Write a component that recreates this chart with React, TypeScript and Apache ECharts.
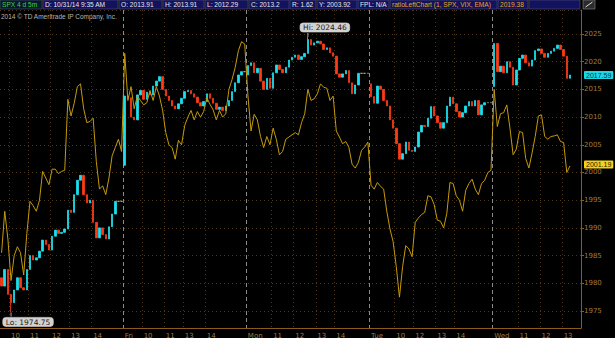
import React, { useEffect, useRef } from 'react';
import * as echarts from 'echarts';

// ---- axis / layout data ----
const dayNames = ['Thu', 'Fri', 'Mon', 'Tue', 'Wed'];
const DAY_SLOTS = 39; // 10-minute slots 9:30..15:50
const TOTAL_SLOTS = 184;
const Y_MIN = 1971.93;
const Y_MAX = 2029.33;

const hourTicks: [number, string][] = [
  [3, '10'], [9, '11'], [16, '12'], [22, '13'], [29, '14'],
  [45, '10'], [52, '11'], [58, '13'], [65, '14'],
  [86, '11'], [93, '12'], [100, '13'], [106, '14'],
  [125, '10'], [131, '12'], [138, '13'], [144, '14'],
  [164, '11'], [171, '12'], [178, '13'],
];
const dayTicks: [number, string][] = [[39, 'Fri'], [78, 'Mon'], [117, 'Tue'], [156, 'Wed']];

// ---- SPX closes (per 10-min slot) ----
const thuCloses = [1979.5, 1982.5, 1978.0, 1976.5, 1978.8, 1981.0, 1979.2, 1978.8, 1982.5, 1985.0, 1984.2, 1984.6, 1985.8, 1987.8, 1987.0, 1986.0, 1988.5, 1989.6, 1989.0, 1989.2, 1989.8, 1993.2, 1992.8, 1996.0, 1998.6, 1999.5, 1996.0, 1994.5, 1995.0, 1991.0, 1988.2, 1990.0, 1988.8, 1988.0, 1990.2, 1992.5, 1994.8, 1994.8, 1994.8];
const friCloses = [2013.8, 2013.5, 2010.0, 2009.5, 2014.0, 2014.8, 2013.2, 2014.5, 2014.0, 2015.6, 2016.5, 2017.3, 2015.0, 2013.8, 2013.0, 2012.0, 2011.5, 2012.4, 2013.4, 2014.6, 2014.8, 2014.2, 2013.6, 2012.6, 2012.0, 2012.8, 2014.2, 2013.4, 2012.5, 2011.4, 2011.8, 2011.2, 2012.0, 2013.0, 2014.6, 2016.2, 2017.6, 2018.2, 2018.2];
const monCloses = [2019.3, 2019.8, 2018.0, 2018.8, 2016.5, 2015.0, 2017.0, 2015.2, 2018.0, 2019.4, 2018.6, 2018.0, 2019.0, 2020.3, 2020.8, 2021.2, 2020.4, 2020.9, 2021.5, 2024.0, 2023.0, 2023.4, 2023.7, 2023.2, 2022.2, 2022.5, 2021.6, 2021.0, 2017.8, 2017.2, 2017.8, 2018.4, 2016.2, 2014.2, 2015.8, 2017.9, 2017.9, 2017.9, 2017.9];
const tueCloses = [2013.7, 2012.5, 2015.6, 2015.0, 2013.0, 2012.0, 2009.5, 2008.0, 2005.2, 2002.4, 2003.4, 2005.5, 2004.0, 2003.8, 2004.6, 2007.3, 2008.5, 2008.3, 2009.8, 2011.9, 2010.2, 2009.0, 2008.0, 2009.0, 2012.0, 2013.6, 2012.4, 2011.0, 2010.0, 2010.8, 2012.0, 2012.8, 2012.0, 2013.0, 2010.4, 2012.2, 2012.6, 2012.6, 2012.6];
const wedCloses = [2023.3, 2018.2, 2019.2, 2018.0, 2020.0, 2019.0, 2015.8, 2018.5, 2020.6, 2021.2, 2019.8, 2019.2, 2020.3, 2022.0, 2022.3, 2021.5, 2020.8, 2021.5, 2021.9, 2022.4, 2023.0, 2022.2, 2021.0, 2017.0, 2017.59];
// opening prints of each session (slot index -> open)
const sessionOpens: Record<number, number> = { 0: 1981.0, 39: 2001.3, 78: 2017.6, 117: 2016.0, 156: 2015.5 };
const hiPoint = { slot: 97, value: 2024.46 };
const loPoint = { slot: 3, value: 1974.75 };

// ---- ratioLeftChart (1, SPX, VIX, EMA) ----
const thuRatio = [1985.5, 1993.0, 1988.0, 1980.5, 1985.0, 1986.6, 1985.5, 1981.5, 1989.0, 1994.8, 1994.0, 1993.0, 1995.0, 2000.2, 1999.0, 1997.8, 2000.6, 2000.6, 1999.8, 2000.2, 2000.4, 2013.2, 2010.2, 2012.5, 2015.5, 2016.0, 2011.5, 2009.0, 2009.2, 2009.8, 2002.0, 1997.0, 1997.6, 1996.0, 1999.0, 2003.0, 2004.5, 2006.0, 2003.8];
const friRatio = [2021.5, 2013.0, 2015.5, 2011.5, 2013.8, 2013.0, 2012.2, 2012.6, 2014.8, 2013.0, 2015.5, 2013.8, 2011.2, 2007.2, 2005.0, 2004.5, 2002.4, 2005.8, 2005.0, 2008.5, 2010.0, 2011.2, 2009.5, 2011.0, 2010.0, 2011.0, 2013.5, 2012.3, 2011.3, 2009.5, 2011.2, 2010.0, 2010.6, 2015.0, 2016.8, 2019.0, 2022.0, 2023.6, 2023.2];
const monRatio = [2014.0, 2007.5, 2010.5, 2009.5, 2006.5, 2004.5, 2006.5, 2005.0, 2008.0, 2006.0, 2003.2, 2003.8, 2006.0, 2006.4, 2006.8, 2007.2, 2006.8, 2009.0, 2010.6, 2015.0, 2013.0, 2013.3, 2014.2, 2016.0, 2015.4, 2015.2, 2013.0, 2013.8, 2007.5, 2006.4, 2005.2, 2005.6, 2004.5, 2001.5, 2000.8, 2001.8, 2004.0, 2004.6, 2005.5];
const tueRatio = [1997.7, 1997.0, 1998.2, 1997.5, 1997.0, 1993.0, 1989.8, 1987.5, 1983.0, 1977.5, 1983.0, 1986.8, 1986.2, 1984.8, 1991.0, 1991.8, 1992.4, 1992.8, 1995.8, 1995.6, 1994.2, 1991.4, 1991.2, 1990.0, 1992.6, 1998.2, 1998.0, 1995.8, 1995.0, 1993.0, 1996.8, 1998.0, 1998.8, 1997.0, 1996.0, 1998.0, 1998.6, 2000.0, 2000.4];
const wedRatio = [2015.0, 2008.3, 2010.6, 2010.8, 2012.2, 2008.0, 2003.2, 2004.2, 2007.4, 2007.2, 2002.5, 2000.8, 2003.5, 2006.5, 2010.2, 2010.4, 2006.5, 2006.0, 2006.5, 2006.6, 2006.8, 2005.6, 2005.4, 2000.0, 2001.19];

// ---- header texts ----
const headerCells: { x: number; w: number; text: string; color: string; bg: string }[] = [
  { x: 0, w: 42, text: 'SPX 4 d 5m', color: '#3fd23f', bg: '#07192a' },
  { x: 43, w: 75, text: 'D: 10/31/14 9:35 AM', color: '#e6e6e6', bg: '#12125e' },
  { x: 119, w: 43, text: 'O: 2013.91', color: '#e6e6e6', bg: '#12125e' },
  { x: 163, w: 41, text: 'H: 2013.91', color: '#e6e6e6', bg: '#12125e' },
  { x: 205, w: 43, text: 'L: 2012.29', color: '#e6e6e6', bg: '#12125e' },
  { x: 249, w: 40, text: 'C: 2013.2', color: '#e6e6e6', bg: '#12125e' },
  { x: 290, w: 26, text: 'R: 1.62', color: '#e6e6e6', bg: '#12125e' },
  { x: 317, w: 40, text: 'Y: 2003.92', color: '#e6e6e6', bg: '#12125e' },
  { x: 358, w: 31, text: 'FPL: N/A', color: '#e6e6e6', bg: '#12125e' },
  { x: 390, w: 107, text: 'ratioLeftChart (1, SPX, VIX, EMA)', color: '#eaa51c', bg: '#12125e' },
  { x: 498, w: 30, text: '2019.38', color: '#eaa51c', bg: '#12125e' },
  { x: 529, w: 51, text: '', color: '#e6e6e6', bg: '#12125e' },
];
const copyright = '2014 \u00A9 TD Ameritrade IP Company, Inc.';

const AXIS_COLOR = '#8c5a1c';
const LABEL_COLOR = '#a07a3c';
const GRID_COLOR = '#4a3614';
const UP = '#1be0ee';
const DOWN = '#ff3a14';
const RATIO = '#c49a0a';
const HEADER_FONT = '6.6px "Liberation Sans", Arial, sans-serif';

export default function App() {
  const ref = useRef<HTMLDivElement>(null);
  useEffect(() => {
    if (!ref.current) return;
    const chart = echarts.init(ref.current, null, { renderer: 'svg' });

    const categories = Array.from({ length: TOTAL_SLOTS }, (_, i) => {
      const d = Math.floor(i / DAY_SLOTS);
      const m = 9 * 60 + 30 + (i % DAY_SLOTS) * 10;
      return `${dayNames[d]} ${Math.floor(m / 60)}:${String(m % 60).padStart(2, '0')}`;
    });
    const closes = [...thuCloses, ...friCloses, ...monCloses, ...tueCloses, ...wedCloses];
    const ratio = [...thuRatio, ...friRatio, ...monRatio, ...tueRatio, ...wedRatio];
    const ohlc = closes.map((c, i) => {
      const o = sessionOpens[i] !== undefined ? sessionOpens[i] : closes[i - 1];
      let lo = Math.min(o, c);
      let hi = Math.max(o, c);
      if (i === hiPoint.slot) hi = hiPoint.value;
      if (i === loPoint.slot) lo = loPoint.value;
      return [o, c, lo, hi];
    });
    const lastClose = closes[closes.length - 1];
    const lastRatio = ratio[ratio.length - 1];
    const hourMap = new Map<number, string>(hourTicks);
    const dayMap = new Map<number, string>(dayTicks);

    const boxLabel = {
      backgroundColor: '#d2d2d2',
      borderColor: '#8a8a8a',
      borderWidth: 0.5,
      borderRadius: 3,
      color: '#1a1a1a',
      fontSize: 7.5,
      fontFamily: 'DejaVu Sans',
      padding: [1, 3, 0, 3],
    };

    const graphic: any[] = [];
    headerCells.forEach((c) => {
      graphic.push({
        type: 'rect',
        shape: { x: c.x, y: 0, width: c.w, height: 9 },
        style: { fill: c.bg, stroke: '#55557a', lineWidth: 0.6 },
        z: 100,
      });
      if (c.text) {
        graphic.push({
          type: 'text',
          x: c.x + 2,
          y: 4.8,
          style: {
            text: c.text,
            fill: c.color,
            font: HEADER_FONT,
            verticalAlign: 'middle',
          },
          z: 101,
        });
      }
    });
    graphic.push(
      { type: 'rect', shape: { x: 583, y: 0, width: 12, height: 9 }, style: { fill: '#2b2b2b', stroke: '#8a8a8a', lineWidth: 0.6 }, z: 100 },
      { type: 'line', shape: { x1: 585.5, y1: 7, x2: 592.5, y2: 2 }, style: { stroke: '#dddddd', lineWidth: 1 }, z: 101 },
      {
        type: 'text',
        x: 1,
        y: 16.5,
        style: {
          text: copyright,
          fill: '#b4b4b4',
          font: '6.5px "Liberation Sans", Arial, sans-serif',
          verticalAlign: 'middle',
        },
        z: 100,
      }
    );

    const valueBox = {
      show: true,
      position: 'end',
      distance: 3,
      fontSize: 7,
      fontFamily: 'Liberation Sans',
      padding: [1, 2, 0, 2],
      borderRadius: 1,
    };

    const option: any = {
      animation: false,
      backgroundColor: '#000000',
      grid: { left: 0, right: 34, top: 10, bottom: 10, outerBoundsMode: 'none', containLabel: false },
      graphic,
      xAxis: [
        {
          type: 'category',
          data: categories,
          boundaryGap: true,
          axisLine: { show: true, lineStyle: { color: AXIS_COLOR, width: 1 } },
          axisTick: { show: false },
          axisLabel: {
            interval: (i: number) => hourMap.has(i),
            formatter: (_v: string, i: number) => hourMap.get(i) || '',
            color: LABEL_COLOR,
            fontSize: 7,
            fontFamily: 'DejaVu Sans',
            align: 'left',
            margin: 4,
          },
          splitLine: {
            show: true,
            interval: (i: number) => hourMap.has(i),
            lineStyle: { color: GRID_COLOR, type: [1, 3], width: 1 },
          },
        },
        {
          type: 'category',
          data: categories,
          position: 'bottom',
          boundaryGap: true,
          axisLine: { show: false },
          axisTick: { show: false },
          axisLabel: {
            interval: (i: number) => dayMap.has(i),
            formatter: (_v: string, i: number) => dayMap.get(i) || '',
            color: LABEL_COLOR,
            fontSize: 7,
            fontFamily: 'DejaVu Sans',
            align: 'left',
            margin: 4,
          },
          splitLine: {
            show: true,
            interval: (i: number) => dayMap.has(i),
            lineStyle: { color: '#8a8a8a', type: [4, 3], width: 1 },
          },
        },
      ],
      yAxis: {
        type: 'value',
        position: 'right',
        min: Y_MIN,
        max: Y_MAX,
        splitNumber: 11,
        minInterval: 5,
        maxInterval: 5,
        axisLine: { show: true, lineStyle: { color: AXIS_COLOR, width: 1 } },
        axisTick: { show: true, length: 3, lineStyle: { color: AXIS_COLOR } },
        axisLabel: {
          color: LABEL_COLOR,
          fontSize: 7,
          fontFamily: 'DejaVu Sans',
          margin: 3,
          showMinLabel: false,
          showMaxLabel: false,
          formatter: (v: number) => (Math.abs(v / 5 - Math.round(v / 5)) < 1e-6 ? String(Math.round(v)) : ''),
        },
        splitLine: { show: true, lineStyle: { color: GRID_COLOR, type: [1, 3], width: 1 } },
      },
      series: [
        {
          type: 'line',
          name: 'ratio',
          data: ratio,
          xAxisIndex: 0,
          symbol: 'none',
          showSymbol: false,
          lineStyle: { color: RATIO, width: 1 },
          markLine: {
            silent: true,
            symbol: 'none',
            lineStyle: { color: 'rgba(0,0,0,0)', width: 0 },
            label: {
              ...valueBox,
              offset: [0, -1.5],
              formatter: () => lastRatio.toFixed(2),
              backgroundColor: '#f2d21a',
              color: '#2a2000',
            },
            data: [{ yAxis: lastRatio }],
          },
        },
        {
          type: 'candlestick',
          name: 'SPX',
          data: ohlc,
          xAxisIndex: 0,
          barWidth: 2,
          itemStyle: {
            color: UP,
            color0: DOWN,
            borderColor: UP,
            borderColor0: DOWN,
            borderColorDoji: '#b4b4b4',
            borderWidth: 0.8,
          },
          markPoint: {
            silent: true,
            symbol: 'rect',
            symbolSize: [1, 4],
            itemStyle: { color: '#a8a8a8' },
            data: [
              {
                coord: [categories[hiPoint.slot], hiPoint.value],
                symbolOffset: [0, -2],
                label: { ...boxLabel, show: true, position: 'top', distance: 1, offset: [17, 0], formatter: () => `Hi: ${hiPoint.value.toFixed(2)}` },
              },
              {
                coord: [categories[loPoint.slot], loPoint.value],
                symbolOffset: [0, 2],
                label: { ...boxLabel, show: true, position: 'bottom', distance: 1, offset: [17, 0], formatter: () => `Lo: ${loPoint.value.toFixed(2)}` },
              },
            ],
          },
          markLine: {
            silent: true,
            symbol: 'none',
            lineStyle: { color: 'rgba(0,0,0,0)', width: 0 },
            label: {
              ...valueBox,
              formatter: () => lastClose.toFixed(2),
              backgroundColor: '#1ad8e6',
              color: '#05303a',
            },
            data: [{ yAxis: lastClose }],
          },
        },
      ],
    };
    chart.setOption(option);
    return () => chart.dispose();
  }, []);

  return (
    <div
      ref={ref}
      style={{ position: 'fixed', left: 0, top: 0, width: 615, height: 338, background: '#000' }}
    />
  );
}
